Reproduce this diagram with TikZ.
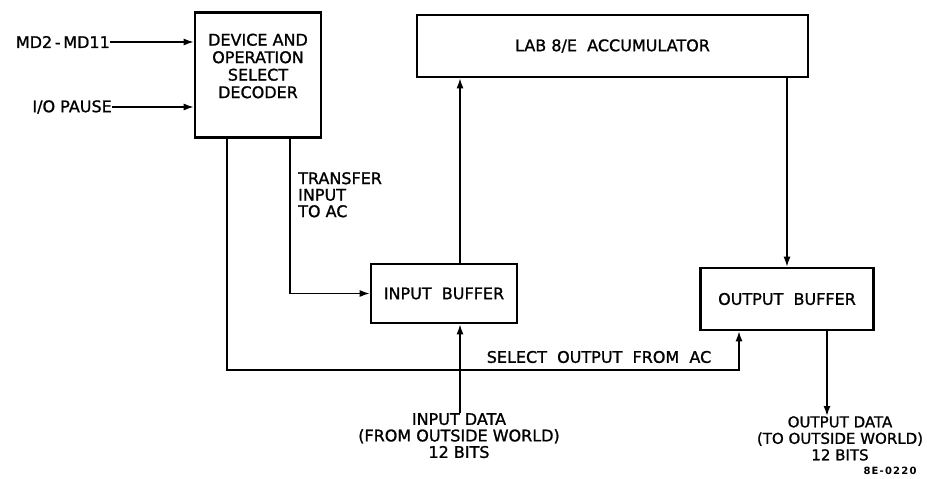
\documentclass[tikz,border=0pt]{standalone}
\usepackage{fontspec}
\setmainfont{DejaVu Sans}
\newfontfamily\lblfont{DejaVu Sans}[FakeBold=1.2]
\newfontfamily\figfont{DejaVu Sans Bold}[LetterSpace=12]
\usetikzlibrary{arrows.meta}
\tikzset{
  blk/.style={draw, line width=2.6pt, rectangle, inner sep=0pt},
  lbl/.style={font=\lblfont\fontsize{16}{16.5}\selectfont, inner sep=0pt, align=center},
  conn/.style={line width=1.5pt, -{Latex[length=10pt,width=7pt]}},
}
\begin{document}
\begin{tikzpicture}[x=1pt,y=-1pt]
\useasboundingbox (0,0) rectangle (927,479);
% blocks
\node[blk, minimum width=126pt, minimum height=125pt] (dec) at (258,75) {};
\node[lbl, font=\lblfont\fontsize{16}{17.5}\selectfont] (dect) at (258,66) {DEVICE AND\\OPERATION\\SELECT\\DECODER};
\node[blk, minimum width=391pt, minimum height=62pt] (acc) at (612.5,46) {};
\node[lbl] (acct) at (612.5,46) {LAB 8/E\ \ ACCUMULATOR};
\node[blk, minimum width=146pt, minimum height=59pt] (ib) at (444,293.5) {};
\node[lbl] (ibt) at (444,293.5) {INPUT\ \ BUFFER};
\node[blk, minimum width=173pt, minimum height=62pt] (ob) at (787,299) {};
\node[lbl] (obt) at (787,299) {OUTPUT\ \ BUFFER};
% input labels
\node[lbl, anchor=east] (md) at (110,42) {MD2\,-\,MD11};
\node[lbl, anchor=east] (io) at (112,107) {I/O PAUSE};
\draw[conn] (md.east) -- (md.east -| dec.west);
\draw[conn] (io.east) -- (io.east -| dec.west);
% transfer
\node[lbl, align=left, anchor=north west] (tr) at (298,172) {TRANSFER\\INPUT\\TO AC};
\draw[conn] ([xshift=32pt]dec.south) |- (ib.west);
% input buffer to accumulator
\draw[conn] ([xshift=16pt]ib.north) -- ([xshift=16pt]ib.north |- acc.south);
% accumulator to output buffer
\draw[conn] (acc.south -| ob.north) -- (ob.north);
% select output
\coordinate (sel) at (227,370);
\node[lbl] (selt) at (599,357) {SELECT\ \ OUTPUT\ \ FROM\ \ AC};
\draw[conn] ([xshift=-31pt]dec.south) |- ([xshift=-48pt]ob.south |- sel) -- ([xshift=-48pt]ob.south);
% input data
\node[lbl, anchor=north] (ind) at (459,413) {INPUT DATA\\(FROM OUTSIDE WORLD)\\12 BITS};
\draw[conn] ([xshift=16pt]ib.south |- ind.north) -- ([xshift=16pt]ib.south);
% output data
\node[lbl, anchor=north, font=\lblfont\fontsize{15}{16.5}\selectfont] (outd) at (840,416) {OUTPUT DATA\\(TO OUTSIDE WORLD)\\12 BITS};
\draw[conn] ([xshift=40pt]ob.south) -- ([xshift=40pt]ob.south |- outd.north);
% figure number
\node[inner sep=0pt, font=\figfont\fontsize{10}{11}\selectfont] (fig) at (890,471) {8E-0220};
\end{tikzpicture}
\end{document}
